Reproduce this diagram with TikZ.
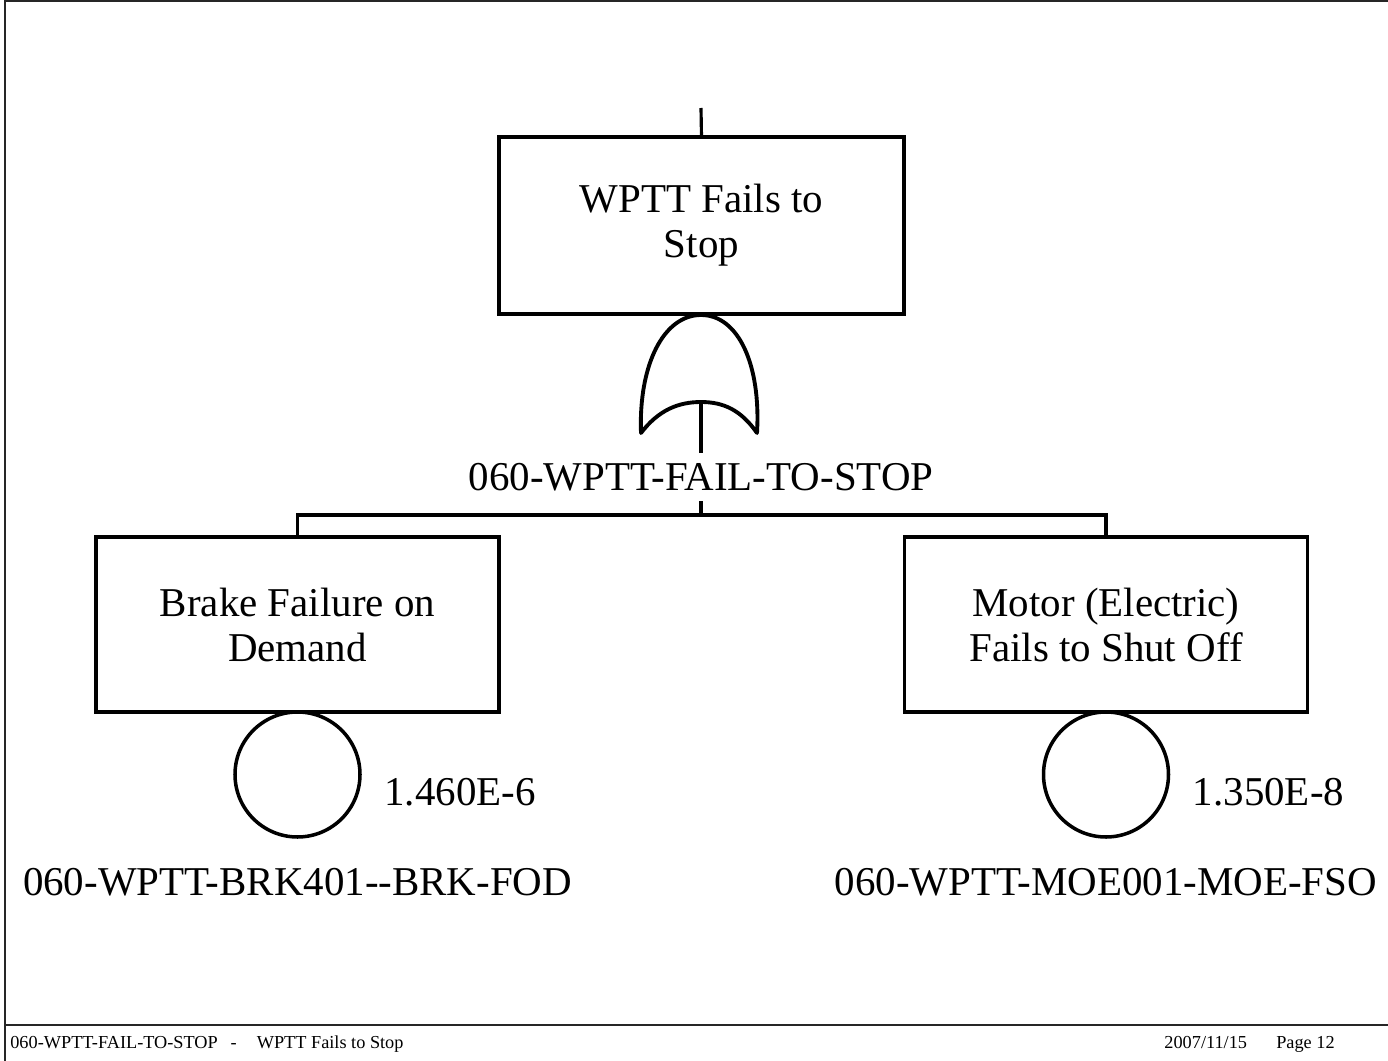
\documentclass[tikz,border=0pt]{standalone}
\usepackage{fontspec}
\setmainfont{Liberation Serif}
\usetikzlibrary{positioning}

\begin{document}
\begin{tikzpicture}[
    eventbox/.style={draw, line width=1.8pt, minimum width=8.06cm, minimum height=3.5cm,
        align=center, font=\fontsize{23.3}{25.6}\selectfont, inner sep=0pt, outer sep=0pt},
    basicev/.style={draw, circle, line width=2pt, minimum size=2.5cm, inner sep=0pt, outer sep=0pt},
    idlabel/.style={font=\fontsize{23.3}{25.6}\selectfont, inner xsep=0pt, inner ysep=0.2cm},
    footnote/.style={font=\fontsize{10.4}{12}\selectfont, inner sep=0pt},
    wire/.style={line width=1.8pt},
    gateline/.style={line width=2.2pt, line join=round},
    frame/.style={line width=1pt, draw=black!85}
]
\useasboundingbox (0,0) rectangle (27.76,-21.22);

% --- page frame ---
\draw[frame] (0.1,0) -- (0.1,-21.22);
\draw[frame] (0.1,-0.02) -- (27.76,-0.02);
\draw[frame] (0.1,-20.5) -- (27.76,-20.5);

% --- top event ---
\coordinate (stub) at (14.02,-2.16);
\node[eventbox, minimum width=8.1cm, minimum height=3.54cm] (topev) at (14.03,-4.51) {WPTT Fails to\\Stop};
\draw[wire] (stub) -- (topev.north);

% --- OR gate ---
\coordinate (gtop) at (14.02,-6.3);
\coordinate (gin) at (14.02,-8.04);
\draw[gateline, shift={(gtop)}]
    (-1.2,-2.36) .. controls (-1.25,-1.0) and (-0.75,0) .. (0,0)
    .. controls (0.75,0) and (1.2,-1.0) .. (1.12,-2.36)
    .. controls (0.8,-1.9) and (0.45,-1.74) .. (0,-1.74)
    .. controls (-0.45,-1.74) and (-0.85,-1.9) .. (-1.2,-2.36) -- cycle;
\node[idlabel] (topid) at (14.02,-9.54) {060-WPTT-FAIL-TO-STOP};
\draw[wire] (gin) -- (topid.north);

% --- branches ---
\coordinate (bar) at (14.02,-10.3);
\node[eventbox] (brake) at (5.95,-12.49) {Brake Failure on\\Demand};
\node[eventbox] (motor) at (22.12,-12.49) {Motor (Electric)\\Fails to Shut Off};
\draw[wire] (topid.south) -- (bar);
\draw[wire] (brake.north) |- (bar) -| (motor.north);

% --- basic events (left) ---
\node[basicev, below=0pt of brake] (brakeev) {};
\node[idlabel, inner ysep=0pt, right=0.48cm of brakeev, yshift=-0.36cm] (brakep) {1.460E-6};
\node[idlabel, inner ysep=0pt, below=0.62cm of brakeev] (brakeid) {060-WPTT-BRK401-{}-BRK-FOD};

% --- basic events (right) ---
\node[basicev, below=0pt of motor] (motorev) {};
\node[idlabel, inner ysep=0pt, right=0.48cm of motorev, yshift=-0.36cm] (motorp) {1.350E-8};
\node[idlabel, inner ysep=0pt, below=0.62cm of motorev] (motorid) {060-WPTT-MOE001-MOE-FSO};

% --- footer ---
\node[footnote, anchor=west] (foottitle) at (0.2,-20.88) {060-WPTT-FAIL-TO-STOP\hspace{0.7em}-\hspace{1.1em}WPTT Fails to Stop};
\node[footnote, anchor=east] (footpage) at (26.7,-20.88) {2007/11/15\hspace{1.6em}Page 12};

\end{tikzpicture}
\end{document}
